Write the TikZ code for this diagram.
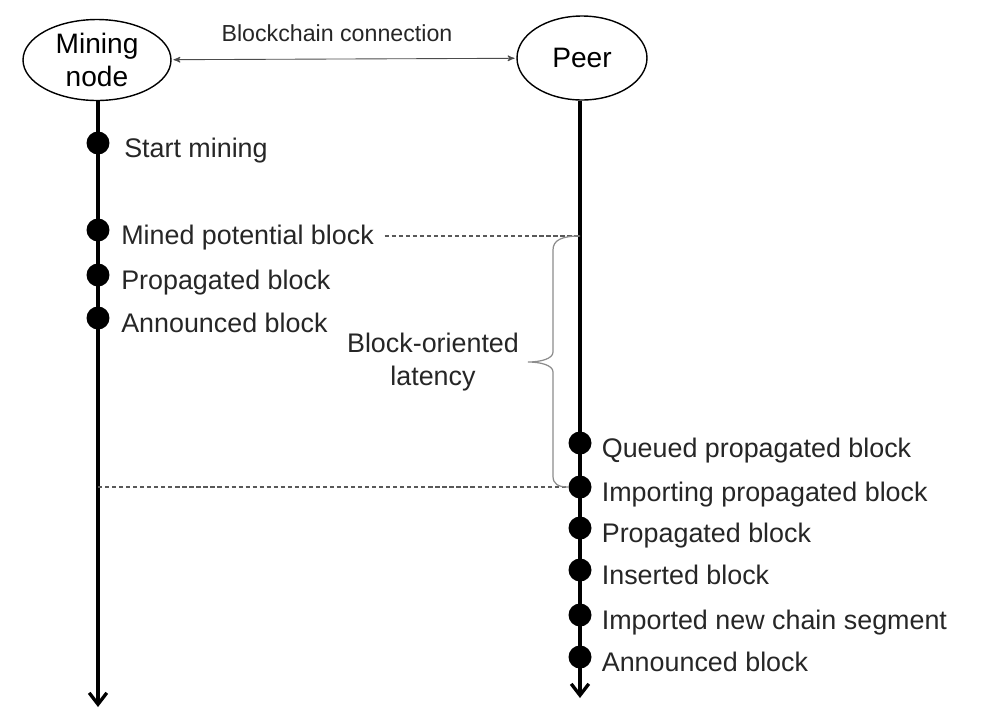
\documentclass[tikz,border=0pt]{standalone}
\usepackage{fontspec}
\setmainfont{Liberation Sans}
\usetikzlibrary{arrows,arrows.meta,positioning,shapes.geometric}

\begin{document}
\begin{tikzpicture}[x=0.02cm,y=-0.02cm,>=stealth',auto,
actor node/.style={ellipse,draw,line width=0.8pt,minimum width=2.96cm,minimum height=1.62cm,align=center,inner sep=0pt,font=\fontsize{16}{18.5}\selectfont},
event dot/.style={circle,fill=black,inner sep=0pt,minimum size=0.46cm},
event label/.style={inner sep=0pt,yshift=-8pt,font=\fontsize{15.3}{18}\selectfont,text=black!85},
time line/.style={line width=1.9pt,-{Straight Barb[length=6.5pt,width=10pt]}},
guide line/.style={black!65,line width=0.7pt,dash pattern=on 2.4pt off 1.6pt},
brace line/.style={black!45,line width=0.7pt}]
\useasboundingbox (0,0) rectangle (1005,721);

\node[actor node] (miner) at (97,60) {Mining\\node};
\node[actor node,minimum width=2.6cm,minimum height=1.68cm] (peer) at (582,58) {Peer};
\draw[<->,black!70,line width=0.5pt,shorten >=1pt,shorten <=1pt] (miner) -- (peer)
  node[midway,above=6pt,xshift=-4pt,text=black!85,font=\fontsize{13.2}{15}\selectfont] {Blockchain connection};

% time lines
\coordinate (mend) at (98,707);
\coordinate (pend) at (580,698);
\draw[time line] (miner.south -| mend) -- (mend);
\draw[time line] (peer.south -| pend) -- (pend);

% mining node events
\node[event dot] (mstart) at (98,143) {};
\node[event dot] (mmined) at (98,230) {};
\node[event dot] (mprop) at (98,275) {};
\node[event dot] (mannounce) at (98,318) {};
\node[event label,base right=8pt of mstart] (mstartl) {Start mining};
\node[event label,base right=6.3pt of mmined] (mminedl) {Mined potential block};
\node[event label,base right=6.3pt of mprop] (mpropl) {Propagated block};
\node[event label,base right=6.3pt of mannounce] (mannouncel) {Announced block};

% peer events
\node[event dot] (pqueued) at (580,443) {};
\node[event dot] (pimporting) at (580,487) {};
\node[event dot] (pprop) at (580,528) {};
\node[event dot] (pinserted) at (580,570) {};
\node[event dot] (pimported) at (580,615) {};
\node[event dot] (pannounce) at (580,657) {};
\node[event label,base right=5.5pt of pqueued] {Queued propagated block};
\node[event label,base right=5.5pt of pimporting] {Importing propagated block};
\node[event label,base right=5.5pt of pprop] {Propagated block};
\node[event label,base right=5.5pt of pinserted] {Inserted block};
\node[event label,base right=5.5pt of pimported] {Imported new chain segment};
\node[event label,base right=5.5pt of pannounce] {Announced block};

% latency
\coordinate (lattop) at (580,236);
\draw[guide line] ([xshift=6pt]mminedl.east |- lattop) -- (lattop);
\draw[guide line] (pimporting.west -| mstart) -- (pimporting.west);
\draw[brace line] (lattop) .. controls (562,236) and (553,240) .. (553,250) -- (553,352)
  .. controls (553,359) and (540,362) .. (528,362) .. controls (540,362) and (553,365) .. (553,372)
  -- (553,476) .. controls (553,484) and (558,487) .. (pimporting.west);
\node[align=center,inner sep=0pt,text=black!85,font=\fontsize{15.3}{18.8}\selectfont] (latency) at (433,362) {Block-oriented\\latency};
\end{tikzpicture}
\end{document}
